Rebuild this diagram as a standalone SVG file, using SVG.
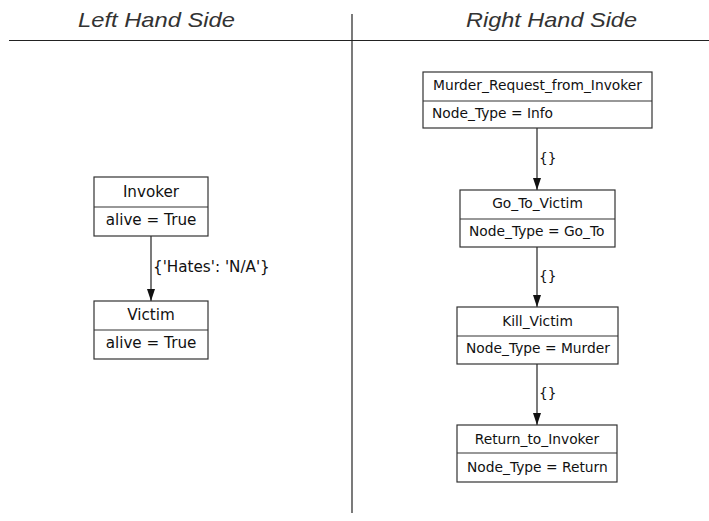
<svg xmlns="http://www.w3.org/2000/svg" width="709" height="521" viewBox="0 0 709 521">
  <defs>
    <marker id="arrow" markerWidth="12" markerHeight="8" refX="12" refY="4" orient="auto" markerUnits="userSpaceOnUse" viewBox="0 0 12 8">
      <path d="M0,0 L12,4 L0,8 Z" fill="#111"/>
    </marker>
    <style>
      .hdr { font-family: "Liberation Sans", Arial, sans-serif; font-style: italic; font-size: 21px; fill: #333; }
      .rule { stroke: #222; stroke-width: 1.2; }
      .box { fill: #fff; stroke: #333; stroke-width: 1.2; }
      .sep { stroke: #333; stroke-width: 1.2; }
      .big { font-family: "DejaVu Sans", sans-serif; font-size: 15.2px; fill: #111; }
      .small { font-family: "DejaVu Sans", sans-serif; font-size: 13.8px; fill: #111; }
      .mid { text-anchor: middle; }
      .edge { stroke: #222; stroke-width: 1.2; fill: none; marker-end: url(#arrow); }
    </style>
  </defs>

  <!-- column headings and dividers -->
  <g id="headings">
    <text class="hdr" x="78" y="27" textLength="157" lengthAdjust="spacingAndGlyphs">Left Hand Side</text>
    <text class="hdr" x="466" y="27" textLength="171" lengthAdjust="spacingAndGlyphs">Right Hand Side</text>
    <line class="rule" x1="9" y1="40.5" x2="709" y2="40.5"/>
    <line class="rule" x1="352" y1="14" x2="352" y2="513"/>
  </g>

  <!-- connectors -->
  <g id="connectors">
    <line class="edge" x1="151" y1="236" x2="151" y2="301"/>
    <text class="big" x="153" y="272">{'Hates': 'N/A'}</text>
    <line class="edge" x1="537" y1="128" x2="537" y2="190"/>
    <text class="small" x="539" y="163">{}</text>
    <line class="edge" x1="537" y1="247" x2="537" y2="307"/>
    <text class="small" x="539" y="281">{}</text>
    <line class="edge" x1="537" y1="364" x2="537" y2="425"/>
    <text class="small" x="539" y="398">{}</text>
  </g>

  <!-- left hand side nodes -->
  <g id="invoker">
    <rect class="box" x="94" y="177" width="114" height="59"/>
    <line class="sep" x1="94" y1="207" x2="208" y2="207"/>
    <text class="big mid" x="151" y="197">Invoker</text>
    <text class="big mid" x="151" y="225">alive = True</text>
  </g>
  <g id="victim">
    <rect class="box" x="94" y="301" width="114" height="58"/>
    <line class="sep" x1="94" y1="330" x2="208" y2="330"/>
    <text class="big mid" x="151" y="320">Victim</text>
    <text class="big mid" x="151" y="348">alive = True</text>
  </g>

  <!-- right hand side nodes -->
  <g id="murder_request">
    <rect class="box" x="423" y="72" width="229" height="56"/>
    <line class="sep" x1="423" y1="101" x2="652" y2="101"/>
    <text class="small mid" x="537.5" y="90">Murder_Request_from_Invoker</text>
    <text class="small" x="432" y="118">Node_Type = Info</text>
  </g>
  <g id="go_to_victim">
    <rect class="box" x="460" y="190" width="155" height="57"/>
    <line class="sep" x1="460" y1="219" x2="615" y2="219"/>
    <text class="small mid" x="537.5" y="208">Go_To_Victim</text>
    <text class="small" x="469" y="236">Node_Type = Go_To</text>
  </g>
  <g id="kill_victim">
    <rect class="box" x="457" y="307" width="161" height="57"/>
    <line class="sep" x1="457" y1="336" x2="618" y2="336"/>
    <text class="small mid" x="537.5" y="326">Kill_Victim</text>
    <text class="small" x="466" y="353">Node_Type = Murder</text>
  </g>
  <g id="return_to_invoker">
    <rect class="box" x="457" y="425" width="160" height="57"/>
    <line class="sep" x1="457" y1="453" x2="617" y2="453"/>
    <text class="small mid" x="537" y="444">Return_to_Invoker</text>
    <text class="small" x="467" y="472">Node_Type = Return</text>
  </g>
</svg>
